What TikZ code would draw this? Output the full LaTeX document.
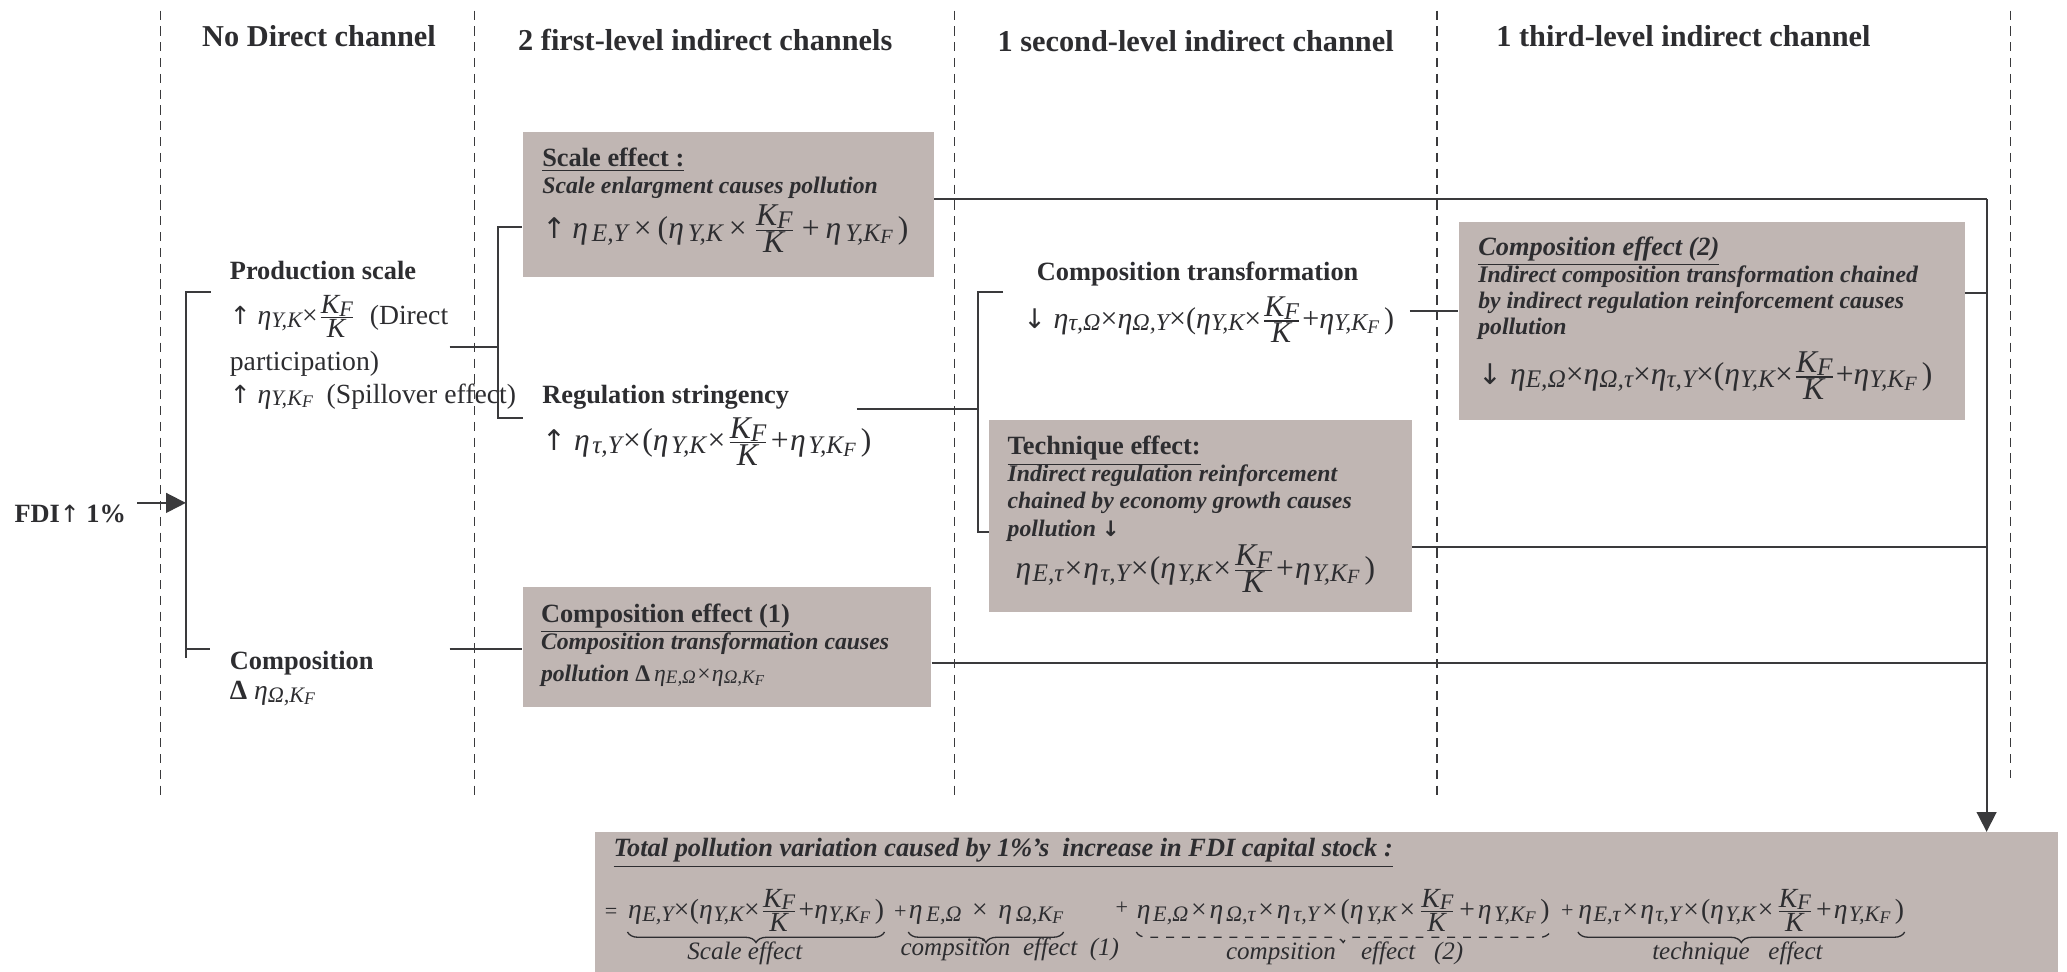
\documentclass[tikz,border=0pt]{standalone}
\usepackage{fontspec}
\usepackage{graphicx}
\setmainfont{Liberation Serif}
\newfontfamily\arrf{DejaVu Sans}
\usetikzlibrary{arrows.meta,decorations.pathreplacing,calc}
\definecolor{boxgray}{RGB}{192,182,179}
\definecolor{ink}{RGB}{45,45,48}
\definecolor{linec}{RGB}{58,58,60}
\newlength\opsp
\newlength\etk
\newcommand\subx[1]{\raisebox{-0.2ex}{\scalebox{0.8}{#1}}}
\newcommand\et[1]{\textit{η\hspace{\etk}\subx{#1}}}
\newcommand\KF{\textit{K\subx{F}}}
\newcommand\kfk{$\frac{\mbox{\KF}}{\mbox{\textit{K}}}$}
\newcommand\etkf{\et{Y,K\subx{F}}}
\newcommand\tm{\hspace{\opsp}×\hspace{\opsp}}
\newcommand\tp{\hspace{\opsp}+\hspace{\opsp}}
\newcommand\up{{\arrf\mdseries\upshape\scalebox{0.9}{↑}}}
\newcommand\dn{{\arrf\mdseries\upshape\scalebox{0.9}{↓}}}
\tikzset{
 hdr/.style={font=\fontsize{11.5}{13}\selectfont\bfseries, text=ink, inner sep=0, anchor=base},
 lbl/.style={font=\fontsize{10}{12}\selectfont\bfseries, text=ink, inner sep=0, anchor=base west},
 desc/.style={font=\fontsize{9}{10}\selectfont\bfseries\itshape, text=ink, inner sep=0, anchor=base west},
 frm/.style n args={3}{font=\fontsize{#1}{14}\selectfont\setlength\opsp{#2}\setlength\etk{#3}, text=ink, inner sep=0, anchor=base west},
 tfrm/.style n args={2}{font=\fontsize{10.5}{12}\selectfont\setlength\opsp{#1}\setlength\etk{#2}, text=ink, inner sep=0, anchor=base west},
 tlab/.style={font=\fontsize{9.5}{11}\selectfont\itshape, text=ink, inner sep=0, anchor=base},
 txt/.style={font=\fontsize{10.5}{12}\selectfont, text=ink, inner sep=0, anchor=base west},
 gbox/.style={fill=boxgray, draw=none, inner sep=0, anchor=north west},
 conn/.style={draw=linec, line width=0.7pt},
 sepline/.style={draw=linec, line width=0.5pt, dash pattern=on 3.5pt off 2.5pt},
 arr/.style={conn, -{Triangle[length=7.5pt,width=7.5pt]}},
 brc/.style={decorate, decoration={brace, mirror, amplitude=4pt}, draw=ink, line width=0.5pt},
}
\begin{document}
\begin{tikzpicture}[x=0.5pt,y=-0.5pt]
\fill[white] (0,0) rectangle (1568,737);
\useasboundingbox (0,0) rectangle (1568,737);

% column separators
\draw[sepline] (122,8) -- (122,605);
\draw[sepline] (360,8) -- (360,605);
\draw[sepline] (724,8) -- (724,605);
\draw[sepline] (1090,8) -- (1090,605);
\draw[sepline] (1525,8) -- (1525,590);

% headers
\node[hdr] (h0) at (242,35) {No Direct channel};
\node[hdr] (h1) at (535,38) {2 first-level indirect channels};
\node[hdr] (h2) at (907,39) {1 second-level indirect channel};
\node[hdr] (h3) at (1277,35) {1 third-level indirect channel};

% boxes
\node[gbox, minimum width=156pt, minimum height=55pt] (scalebox) at (396,99.4) {};
\node[gbox, minimum width=192pt, minimum height=75pt] (comp2box) at (1106,168) {};
\node[gbox, minimum width=160.25pt, minimum height=73pt] (techbox) at (750,318) {};
\node[gbox, minimum width=155pt, minimum height=45.5pt] (comp1box) at (396,445) {};
\node[gbox, minimum width=555pt, minimum height=53pt] (totalbox) at (451,631) {};

% FDI
\node[lbl] (fdi) at (10.6,396) {FDI\up\ 1\%};

% production scale
\node[lbl] (ps) at (174,212) {Production scale};
\node[txt] (ps1) at (174,246.5) {\up\ \et{Y,K}×\kfk\ \ (Direct};
\node[txt] (ps2) at (174,281) {participation)};
\node[txt] (ps3) at (174,306) {\up\ \etkf\ \ (Spillover effect)};

% composition (left)
\node[lbl] (cm) at (174,508) {Composition};
\node[txt] (cm1) at (174,531) {\textbf{Δ}\ \et{Ω,K\subx{F}}};

% scale effect
\node[lbl] (sch) at (411,126) {\underline{Scale effect :}};
\node[desc] (scd) at (411,146.5) {Scale enlargment causes pollution};
\node[frm={12}{2.3pt}{1.5pt}] (scf) at (411,180.7) {{\arrf\slshape\scalebox{0.9}{↑}}\hspace{\opsp}\et{E,Y}\tm(\et{Y,K}\tm\kfk\tp\etkf\,)};

% regulation stringency
\node[lbl] (rg) at (411,306) {Regulation stringency};
\node[frm={12}{0.5pt}{1pt}] (rgf) at (411,342) {\up\ \et{τ,Y}\tm(\et{Y,K}\tm\kfk\tp\etkf\,)};

% composition effect (1)
\node[lbl] (c1h) at (410,472) {\underline{Composition effect (1)}};
\node[desc] (c1d1) at (410,493) {Composition transformation causes};
\node[desc] (c1d2) at (410,517) {pollution {\upshape\bfseries Δ}\,{\mdseries\et{E,Ω}×\et{Ω,K\subx{F}}}};

% composition transformation
\node[lbl, anchor=base] (ct) at (908.5,212.5) {Composition transformation};
\node[frm={11.4}{0pt}{0pt}] (ctf) at (776,249) {\dn\ \et{τ,Ω}\tm\et{Ω,Y}\tm(\et{Y,K}\tm\kfk\tp\etkf\,)};

% technique effect
\node[lbl] (teh) at (764,345) {\underline{Technique effect:}};
\node[desc] (ted1) at (764,365.5) {Indirect regulation reinforcement};
\node[desc] (ted2) at (764,385.6) {chained by economy growth causes};
\node[desc] (ted3) at (764,407) {pollution {\arrf\bfseries\slshape\scalebox{0.9}{↓}}};
\node[frm={12}{0.4pt}{0.5pt}] (tef) at (770,438.6) {\et{E,τ}\tm\et{τ,Y}\tm(\et{Y,K}\tm\kfk\tp\etkf\,)};

% composition effect (2)
\node[lbl, font=\fontsize{10}{12}\selectfont\bfseries\itshape] (c2h) at (1121,193.5) {\underline{Composition effect (2)}};
\node[desc] (c2d1) at (1121,214) {Indirect composition transformation chained};
\node[desc] (c2d2) at (1121,234) {by indirect regulation reinforcement causes};
\node[desc] (c2d3) at (1121,254) {pollution};
\node[frm={12}{0pt}{0pt}] (c2f) at (1121,292) {\dn\ \et{E,Ω}\tm\et{Ω,τ}\tm\et{τ,Y}\tm(\et{Y,K}\tm\kfk\tp\etkf\,)};

% total
\node[desc, font=\fontsize{10}{12}\selectfont\bfseries\itshape] (tth) at (465,650) {\underline{Total pollution variation caused by 1\%’s\ \ increase in FDI capital stock :}};
\node[tfrm={0pt}{0pt}, anchor=base] (teq) at (463.5,697) {\scalebox{0.8}{=}};
\node[tfrm={0.1pt}{0.2pt}] (t1) at (476,697) {\et{E,Y}\tm(\et{Y,K}\tm\kfk\tp\etkf\,)};
\node[tfrm={0pt}{0pt}, anchor=base] (tp1) at (683,697) {\scalebox{0.8}{+}};
\node[tfrm={4pt}{1.5pt}] (t2) at (689,697) {\et{E,Ω}\tm\et{Ω,K\subx{F}}};
\node[tfrm={0pt}{0pt}, anchor=base] (tp2) at (851,694) {\scalebox{0.8}{+}};
\node[tfrm={1.1pt}{1pt}] (t3) at (862,697) {\et{E,Ω}\tm\et{Ω,τ}\tm\et{τ,Y}\tm(\et{Y,K}\tm\kfk\tp\etkf\,)};
\node[tfrm={0pt}{0pt}, anchor=base] (tp3) at (1189,696) {\scalebox{0.8}{+}};
\node[tfrm={0.8pt}{0.5pt}] (t4) at (1197,697) {\et{E,τ}\tm\et{τ,Y}\tm(\et{Y,K}\tm\kfk\tp\etkf\,)};
\draw[brc] (t1.west |- 0,707) -- (t1.east |- 0,707);
\draw[brc] (t2.west |- 0,707) -- (t2.east |- 0,707);
\draw[brc, dashed] (t3.west |- 0,707) -- (t3.east |- 0,707);
\draw[brc] (t4.west |- 0,707) -- (t4.east |- 0,707);
\node[tlab] (l1) at (565,728) {Scale effect};
\node[tlab] (l2) at (766,725) {compsition\ \ effect\ \ (1)};
\node[tlab] (l3) at (1020,728) {compsition\ \ \ \ effect\ \ \ (2)};
\node[tlab] (l4) at (1318,728) {technique\ \ \ effect};

% connectors
\coordinate (fdiout) at (104,381.5);
\coordinate (j1m) at (141,381.5);
\coordinate (j1t) at (141,221.5);
\coordinate (j1b) at (141,499);
\coordinate (pstick) at (160,221.5);
\coordinate (cmtick) at (159.5,492.5);
\draw[arr] (fdiout) -- (j1m);
\draw[conn] (pstick) -- (j1t) -- (j1b);
\draw[conn] (j1b |- cmtick) -- (cmtick);

\coordinate (psout) at (341,263);
\coordinate (j2m) at (377.5,263);
\coordinate (j2t) at (377.5,172);
\coordinate (j2b) at (377.5,317);
\coordinate (regin) at (396.5,317);
\draw[conn] (psout) -- (j2m);
\draw[conn] (scalebox.west |- j2t) -- (j2t) -- (j2b) -- (regin);

\coordinate (cmout) at (341,492.5);
\draw[conn] (cmout) -- (comp1box.west |- cmout);

\coordinate (regout) at (650,310.5);
\coordinate (j3m) at (742,310.5);
\coordinate (j3t) at (742,221.5);
\coordinate (j3b) at (742,403.6);
\coordinate (ctin) at (761,221.5);
\draw[conn] (regout) -- (j3m);
\draw[conn] (ctin) -- (j3t) -- (j3b) -- (techbox.west |- j3b);

\coordinate (ctout) at (1069.5,236);
\draw[conn] (ctout) -- (comp2box.west |- ctout);

\coordinate (rtop) at (1507,151);
\coordinate (r2) at (1507,222);
\coordinate (r3) at (1507,415);
\coordinate (r4) at (1507,503);
\draw[conn] (scalebox.east |- rtop) -- (rtop);
\draw[arr] (rtop) -- (totalbox.north -| rtop);
\draw[conn] (comp2box.east |- r2) -- (r2);
\draw[conn] (techbox.east |- r3) -- (r3);
\draw[conn] (comp1box.east |- r4) -- (r4);
\end{tikzpicture}
\end{document}
